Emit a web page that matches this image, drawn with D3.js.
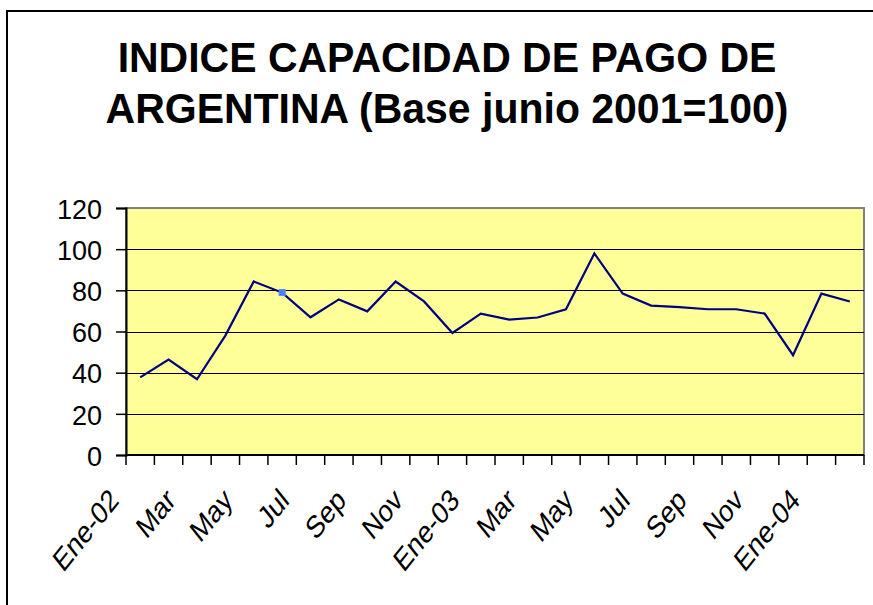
<!DOCTYPE html>
<html>
<head>
<meta charset="utf-8">
<script src="https://cdn.jsdelivr.net/npm/d3@7"></script>
<style>
  body { margin: 0; background: #ffffff; }
  text { font-family: "Liberation Sans", Arial, sans-serif; }
</style>
</head>
<body>
<div id="chart"></div>
<script>
//-------------------------------------------------------
// data
//-------------------------------------------------------
const titleLines = ["INDICE CAPACIDAD DE PAGO DE", "ARGENTINA (Base junio 2001=100)"];

const months = ["Ene-02", "Feb-02", "Mar-02", "Abr-02", "May-02", "Jun-02", "Jul-02", "Ago-02",
    "Sep-02", "Oct-02", "Nov-02", "Dic-02", "Ene-03", "Feb-03", "Mar-03", "Abr-03", "May-03",
    "Jun-03", "Jul-03", "Ago-03", "Sep-03", "Oct-03", "Nov-03", "Dic-03", "Ene-04", "Feb-04"];

const tickLabels = ["Ene-02", "", "Mar", "", "May", "", "Jul", "", "Sep", "", "Nov", "",
    "Ene-03", "", "Mar", "", "May", "", "Jul", "", "Sep", "", "Nov", "", "Ene-04", ""];

const indexValues = [37.7, 46.4, 36.8, 58, 84.3, 78.9, 66.9, 75.6, 69.8, 84.3, 74.6, 59.3,
    68.7, 65.8, 66.8, 70.8, 97.9, 78.4, 72.6, 71.8, 70.8, 70.8, 68.7, 48.5, 78.4, 74.6];

const yTicks = [0, 20, 40, 60, 80, 100, 120];

// the one highlighted point in the original
const markedMonth = "Jun-02";

//-------------------------------------------------------
// properties
//-------------------------------------------------------
let properties = {
    width: 873,
    height: 605,
    plot: { left: 126, right: 864, top: 208, bottom: 455 },
    color: {
        black: "#000000",
        line: "#000080",
        plotFill: "#ffff99",
        plotBorder: "#808080",
        marker: "#4a7dff"
    }
};

const svg = d3.select("#chart")
    .append("svg")
    .attr("width", properties.width)
    .attr("height", properties.height);

// outer chart frame
svg.append("rect")
    .attr("x", 7)
    .attr("y", 11)
    .attr("width", properties.width + 20)
    .attr("height", properties.height + 20)
    .attr("fill", "none")
    .attr("stroke", properties.color.black)
    .attr("stroke-width", 2);

// title (the original is slightly stretched vertically)
svg.append("g")
    .selectAll("text")
    .data(titleLines)
    .enter()
    .append("text")
    .attr("transform", (d, i) => `translate(447,${72 + i * 51}) scale(1,1.05)`)
    .attr("text-anchor", "middle")
    .attr("font-size", "41px")
    .attr("font-weight", "bold")
    .attr("fill", properties.color.black)
    .text(d => d);

//scales
const x = d3.scaleBand()
    .domain(months)
    .range([properties.plot.left, properties.plot.right]);

const y = d3.scaleLinear()
    .domain([0, 120])
    .range([properties.plot.bottom, properties.plot.top]);

// plot area
svg.append("rect")
    .attr("x", properties.plot.left)
    .attr("y", properties.plot.top)
    .attr("width", properties.plot.right - properties.plot.left)
    .attr("height", properties.plot.bottom - properties.plot.top)
    .attr("fill", properties.color.plotFill)
    .attr("stroke", properties.color.plotBorder)
    .attr("stroke-width", 2);

// gridlines
svg.append("g")
    .selectAll("line")
    .data(yTicks.filter(d => d > 0 && d < 120))
    .enter()
    .append("line")
    .attr("x1", properties.plot.left)
    .attr("x2", properties.plot.right)
    .attr("y1", d => Math.round(y(d)) + 0.5)
    .attr("y2", d => Math.round(y(d)) + 0.5)
    .attr("stroke", properties.color.black)
    .attr("stroke-width", 1.2);

// y axis
const yAxis = svg.append("g")
    .attr("transform", `translate(${properties.plot.left},0)`)
    .call(d3.axisLeft(y).tickValues(yTicks).tickSize(10).tickPadding(14));
yAxis.selectAll("line").attr("stroke", properties.color.black).attr("stroke-width", 1.5);
yAxis.select(".domain").attr("stroke", properties.color.black).attr("stroke-width", 2);
yAxis.selectAll("text")
    .attr("font-family", "'Liberation Sans', Arial, sans-serif")
    .attr("font-size", "27px")
    .attr("fill", properties.color.black)
    .attr("dy", "0.38em");

// x axis: ticks on band boundaries
const boundaries = months.map(m => x(m)).concat([properties.plot.right]);
const xAxis = svg.append("g");
xAxis.append("line")
    .attr("x1", properties.plot.left)
    .attr("x2", properties.plot.right)
    .attr("y1", properties.plot.bottom)
    .attr("y2", properties.plot.bottom)
    .attr("stroke", properties.color.black)
    .attr("stroke-width", 2);
xAxis.selectAll("line.tick")
    .data(boundaries)
    .enter()
    .append("line")
    .attr("class", "tick")
    .attr("x1", d => d)
    .attr("x2", d => d)
    .attr("y1", properties.plot.bottom)
    .attr("y2", properties.plot.bottom + 10)
    .attr("stroke", properties.color.black)
    .attr("stroke-width", 1.5);

xAxis.selectAll("text")
    .data(months)
    .enter()
    .append("text")
    .attr("transform", (d, i) =>
        `translate(${x(d) + x.bandwidth() / 2 - 20},${502}) scale(1,1.25) rotate(-45)`)
    .attr("text-anchor", "end")
    .attr("font-size", "25px")
    .attr("fill", properties.color.black)
    .text((d, i) => tickLabels[i]);

// line
const line = d3.line()
    .x((d, i) => x(months[i]) + x.bandwidth() / 2)
    .y(d => y(d));

svg.append("path")
    .datum(indexValues)
    .attr("d", line)
    .attr("fill", "none")
    .attr("stroke", properties.color.line)
    .attr("stroke-width", 2.2)
    .attr("stroke-linejoin", "miter");

// highlighted marker
const mi = months.indexOf(markedMonth);
svg.append("rect")
    .attr("x", x(markedMonth) + x.bandwidth() / 2 - 3)
    .attr("y", y(indexValues[mi]) - 3)
    .attr("width", 6)
    .attr("height", 6)
    .attr("fill", properties.color.marker)
    .attr("stroke", "#5b8cff")
    .attr("stroke-width", 1);
</script>
</body>
</html>
